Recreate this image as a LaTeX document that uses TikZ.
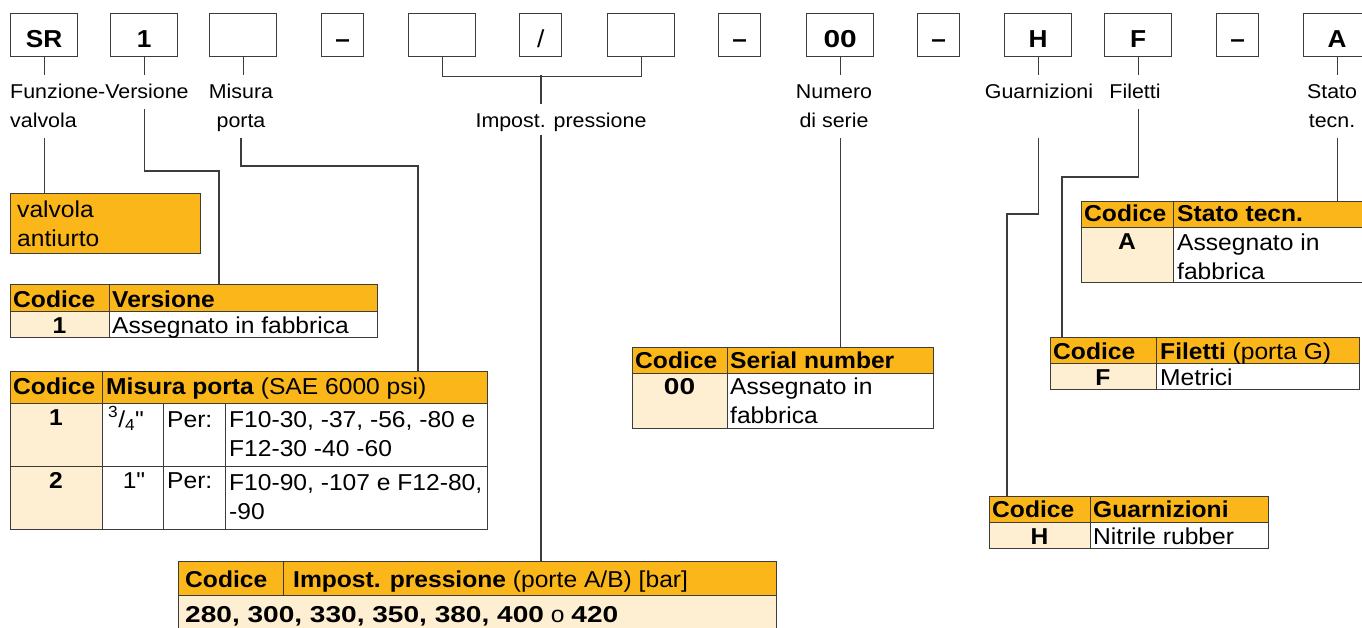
\documentclass[tikz,border=0pt]{standalone}
\usepackage{fontspec}
\setmainfont[FakeStretch=1.07,Ligatures=TeXOff]{Liberation Sans}
\newfontfamily\bnum[FakeStretch=1.22,Ligatures=TeXOff]{Liberation Sans}
\usetikzlibrary{positioning}

\definecolor{rxorange}{HTML}{FBB719}
\definecolor{rxcream}{HTML}{FEEFD3}
\definecolor{rxline}{HTML}{3C3C3C}

\newcommand{\keyfont}{\fontsize{24.5}{29}\selectfont\bfseries}
\newcommand{\lblfont}{\fontsize{20}{29}\selectfont}
\newcommand{\tabfont}{\fontsize{23}{29}\selectfont}

\begin{document}
\begin{tikzpicture}[x=1pt, y=-1pt, every node/.style={inner sep=0pt},
  keybox/.style={draw=rxline,line width=1.3pt,minimum width=67pt,minimum height=43pt,anchor=north west,font=\keyfont,text height=25pt,text depth=0pt},
  dashbox/.style={keybox,minimum width=42pt},
  lbl/.style={font=\lblfont,anchor=base,text height=15pt,text depth=5pt},
  lbll/.style={lbl,anchor=base west},
  tick/.style={draw=rxline,line width=1.3pt,shorten >=9pt},
  lead/.style={draw=rxline,line width=1.3pt,shorten <=5pt},
  hcell/.style={draw=rxline,line width=1.3pt,fill=rxorange,anchor=north west},
  ccell/.style={draw=rxline,line width=1.3pt,fill=rxcream,anchor=north west},
  wcell/.style={draw=rxline,line width=1.3pt,fill=white,anchor=north west},
  tx/.style={font=\tabfont,anchor=base west},
  txb/.style={font=\tabfont\bfseries,anchor=base west},
  txc/.style={font=\tabfont\bfseries,anchor=base},
  txm/.style={font=\tabfont,anchor=north west,align=left}]
\clip (0,0) rectangle (1362,628);

% code boxes
\node[keybox] (kSR) at (10,13) {SR};
\node[keybox] (kVer) at (110,13) {1};
\node[keybox] (kMis) at (209,13) {};
\node[dashbox] (kD1) at (321,13) {\textendash};
\node[keybox] (kP1) at (408,13) {};
\node[dashbox] (kSl) at (519,13) {\mdseries /};
\node[keybox] (kP2) at (607,13) {};
\node[dashbox] (kD2) at (718,13) {\textendash};
\node[keybox] (kSer) at (806,13) {\bnum\bfseries 00};
\node[dashbox] (kD3) at (917,13) {\textendash};
\node[keybox] (kGua) at (1004,13) {H};
\node[keybox] (kFil) at (1104,13) {F};
\node[dashbox] (kD4) at (1216,13) {\textendash};
\node[keybox] (kSta) at (1303,13) {A};

% labels
\node[lbll] (lFV) at (10,99) {Funzione-Versione};
\node[lbll] (lValv) at (10,128) {valvola};
\node[lbl] (lMis) at (241,99) {Misura};
\node[lbl] (lPor) at (241,128) {porta};
\node[lbl] (lImp) at (561,128) {Impost. pressione};
\node[lbl] (lNum) at (834,99) {Numero};
\node[lbl] (lSer) at (834,128) {di serie};
\node[lbl] (lGua) at (1039,99) {Guarnizioni};
\node[lbl] (lFil) at (1135,99) {Filetti};
\node[lbl] (lSta) at (1332,99) {Stato};
\node[lbl] (lTec) at (1332,128) {tecn.};

\draw[tick] (kSR.south) -- (kSR.south |- lFV.north);
\draw[tick] (kVer.south) -- (kVer.south |- lFV.north);
\draw[tick] (kMis.south) -- (kMis.south |- lMis.north);
\draw[tick] (kSer.south) -- (kSer.south |- lNum.north);
\draw[tick] (kGua.south) -- (kGua.south |- lGua.north);
\draw[tick] (kFil.south) -- (kFil.south |- lFil.north);
\draw[tick] (kSta.south) -- (kSta.south |- lSta.north);
\draw[draw=rxline,line width=1.3pt] (kP1.south) -- ++(0,19) -| (kP2.south);
\coordinate (brk) at (541,75);
\draw[tick] (brk) -- (brk |- lImp.north);

% valvola antiurto
\node[hcell,minimum width=190pt,minimum height=60pt] (aiBox) at (10,193) {};
\node[txm] (tAi) at (17,200.5) {valvola\\antiurto};

% Versione
\node[hcell,minimum width=99pt,minimum height=27pt] (hVerC) at (10,284) {};
\node[hcell,minimum width=268pt,minimum height=27pt] (hVer) at (109,284) {};
\node[ccell,minimum width=99pt,minimum height=26pt] (bVerC) at (10,311) {};
\node[wcell,minimum width=268pt,minimum height=26pt] (bVer) at (109,311) {};
\node[txb] (tVerC) at (13,307) {Codice};
\node[txb] (tVerH) at (112,307) {Versione};
\node[txc] (tVer1) at (59.5,333) {1};
\node[tx] (tVerA) at (112,333) {Assegnato in fabbrica};

% Misura porta
\node[hcell,minimum width=92pt,minimum height=32pt] (hMisC) at (10,371) {};
\node[hcell,minimum width=385pt,minimum height=32pt] (hMis) at (102,371) {};
\node[ccell,minimum width=92pt,minimum height=63pt] (bMisC1) at (10,403) {};
\node[wcell,minimum width=61pt,minimum height=63pt] (bMisS1) at (102,403) {};
\node[wcell,minimum width=62pt,minimum height=63pt] (bMisP1) at (163,403) {};
\node[wcell,minimum width=262pt,minimum height=63pt] (bMisF1) at (225,403) {};
\node[ccell,minimum width=92pt,minimum height=63pt] (bMisC2) at (10,466) {};
\node[wcell,minimum width=61pt,minimum height=63pt] (bMisS2) at (102,466) {};
\node[wcell,minimum width=62pt,minimum height=63pt] (bMisP2) at (163,466) {};
\node[wcell,minimum width=262pt,minimum height=63pt] (bMisF2) at (225,466) {};
\node[txb] (tMisC) at (13,394) {Codice};
\node[tx] (tMisH) at (106,394) {\textbf{Misura porta} (SAE 6000 psi)};
\node[txc] (tMis1) at (56,425) {1};
\node[tx] (tMisS1) at (108,427) {\textsuperscript{3}/\textsubscript{4}"};
\node[tx] (tMisP1) at (167,427) {Per:};
\node[txm] (tMisF1) at (229,411.5) {F10-30, -37, -56, -80 e\\F12-30 -40 -60};
\node[txc] (tMis2) at (56,488) {2};
\node[txc,font=\tabfont] (tMisS2) at (134,488) {1"};
\node[tx] (tMisP2) at (167,488) {Per:};
\node[txm] (tMisF2) at (229,474.5) {F10-90, -107 e F12-80,\\-90};

% Impost. pressione
\node[hcell,minimum width=105pt,minimum height=34pt] (hImpC) at (178,561) {};
\node[hcell,minimum width=493pt,minimum height=34pt] (hImp) at (283,561) {};
\node[ccell,minimum width=598pt,minimum height=45pt] (bImp) at (178,595) {};
\node[txb] (tImpC) at (185,587) {Codice};
\node[tx] (tImpH) at (293,587) {\textbf{Impost. pressione} (porte A/B) [bar]};
\node[tx] (tImpV) at (185,622) {{\bnum\bfseries 280, 300, 330, 350, 380, 400} o {\bnum\bfseries 420}};

% Serial number
\node[hcell,minimum width=95pt,minimum height=26pt] (hSerC) at (632,347) {};
\node[hcell,minimum width=206pt,minimum height=26pt] (hSer) at (727,347) {};
\node[ccell,minimum width=95pt,minimum height=55pt] (bSerC) at (632,373) {};
\node[wcell,minimum width=206pt,minimum height=55pt] (bSer) at (727,373) {};
\node[txb] (tSerC) at (635,368) {Codice};
\node[txb] (tSerH) at (730,368) {Serial number};
\node[txc] (tSer0) at (679.5,394) {\bnum 00};
\node[txm] (tSerA) at (730,377.5) {Assegnato in\\fabbrica};

% Stato tecn.
\node[hcell,minimum width=92pt,minimum height=26pt] (hStaC) at (1081,201) {};
\node[hcell,minimum width=215pt,minimum height=26pt] (hSta) at (1173,201) {};
\node[ccell,minimum width=92pt,minimum height=55pt] (bStaC) at (1081,227) {};
\node[wcell,minimum width=215pt,minimum height=55pt] (bSta) at (1173,227) {};
\node[txb] (tStaC) at (1084,222) {Codice};
\node[txb] (tStaH) at (1177,222) {Stato tecn.};
\node[txc] (tStaA) at (1127,250) {A};
\node[txm] (tStaV) at (1177,233.5) {Assegnato in\\fabbrica};

% Filetti
\node[hcell,minimum width=106pt,minimum height=26pt] (hFilC) at (1050,337) {};
\node[hcell,minimum width=203pt,minimum height=26pt] (hFil) at (1156,337) {};
\node[ccell,minimum width=106pt,minimum height=26pt] (bFilC) at (1050,363) {};
\node[wcell,minimum width=203pt,minimum height=26pt] (bFil) at (1156,363) {};
\node[txb] (tFilC) at (1053,359) {Codice};
\node[tx] (tFilH) at (1160,359) {\textbf{Filetti} (porta G)};
\node[txc] (tFilF) at (1103,385) {F};
\node[tx] (tFilM) at (1160,385) {Metrici};

% Guarnizioni
\node[hcell,minimum width=101pt,minimum height=26pt] (hGuaC) at (989,496) {};
\node[hcell,minimum width=178pt,minimum height=26pt] (hGua) at (1090,496) {};
\node[ccell,minimum width=101pt,minimum height=26pt] (bGuaC) at (989,522) {};
\node[wcell,minimum width=178pt,minimum height=26pt] (bGua) at (1090,522) {};
\node[txb] (tGuaC) at (992,517) {Codice};
\node[txb] (tGuaH) at (1093,517) {Guarnizioni};
\node[txc] (tGuaH1) at (1039.5,544) {H};
\node[tx] (tGuaN) at (1093,544) {Nitrile rubber};

% leaders to the tables
\draw[lead] (lValv.south -| kSR.south) -- (aiBox.north -| kSR.south);
\coordinate (jVer) at (219,171);
\draw[lead] (lFV.south -| kVer.south) |- (jVer) -- (jVer |- hVer.north);
\coordinate (jMis) at (418,166);
\draw[lead] (lPor.south) |- (jMis) -- (jMis |- hMis.north);
\draw[lead,shorten <=2pt] (lImp.south -| brk) -- (hImp.north -| brk);
\draw[lead] (lSer.south -| kSer.south) -- (hSer.north -| kSer.south);
\coordinate (jGua) at (1007,214);
\draw[lead,shorten <=34pt] (lGua.south -| kGua.south) |- (jGua) -- (jGua |- hGua.north);
\coordinate (jFil) at (1062,177);
\draw[lead] (lFil.south -| kFil.south) |- (jFil) -- (jFil |- hFil.north);
\draw[lead] (lTec.south -| kSta.south) -- (hSta.north -| kSta.south);
\end{tikzpicture}
\end{document}
